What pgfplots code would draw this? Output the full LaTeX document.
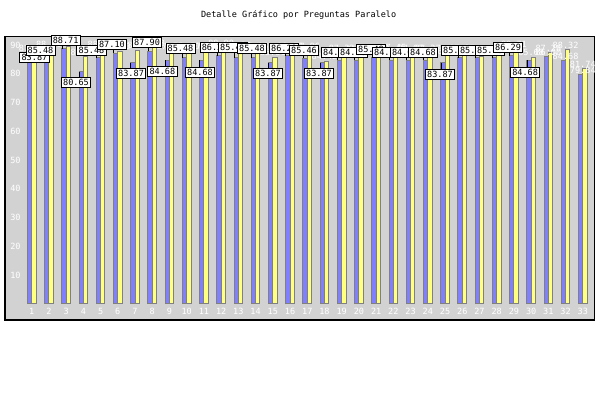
\documentclass[border=0pt]{standalone}
\usepackage{pgfplots}
\pgfplotsset{compat=1.18}
\usepackage{pgfplotstable}
\usepackage{fontspec}
\newfontfamily\pixfont{DejaVu Sans Mono}
\newcommand{\pf}{\pixfont\fontsize{6.4}{7}\selectfont}
\definecolor{bgray}{RGB}{210,210,210}
\definecolor{bblue}{RGB}{128,128,255}
\definecolor{byellow}{RGB}{255,255,128}
\definecolor{bedge}{RGB}{128,128,128}

\pgfplotstableread{
k blue yellow
1 83.87 87.10
2 85.48 88.60
3 88.71 89.40
4 80.65 85.88
5 85.48 88.50
6 87.10 87.90
7 83.87 88.20
8 87.90 89.08
9 84.68 87.88
10 85.48 88.00
11 84.68 87.90
12 86.29 88.88
13 85.48 88.20
14 85.48 87.96
15 83.87 85.81
16 86.29 88.07
17 85.46 87.96
18 83.87 84.42
19 84.68 87.33
20 84.68 86.97
21 85.48 87.07
22 84.68 87.45
23 84.68 87.07
24 84.68 87.37
25 83.87 86.19
26 85.48 87.37
27 85.48 86.06
28 85.48 86.40
29 86.29 88.71
30 84.68 85.68
31 86.00 87.28
32 84.68 88.32
33 79.84 81.74
}\datatab

\pgfplotstableread{
x cx y ep em lab
1.16 0.76 85.83 0 1.96 83.87
1.51 1.76 88.09 0 2.61 85.48
2.97 2.76 91.74 0 3.03 88.71
3.57 3.76 76.96 3.69 0 80.65
4.47 4.76 88.09 0 2.61 85.48
5.66 5.76 90.35 0 3.25 87.10
6.77 6.76 80.09 3.78 0 83.87
7.70 7.76 91.04 0 3.14 87.90
8.59 8.76 80.78 3.90 0 84.68
9.64 9.76 88.78 0 3.30 85.48
10.77 10.76 80.61 4.07 0 84.68
11.62 11.76 89.13 0 2.84 86.29
12.69 12.76 89.13 0 3.65 85.48
13.79 13.76 88.78 0 3.30 85.48
14.72 14.76 80.09 3.78 0 83.87
15.65 15.76 88.95 0 2.66 86.29
16.81 16.76 88.09 0 2.63 85.46
17.68 17.76 80.09 3.78 0 83.87
18.67 18.76 87.57 0 2.89 84.68
19.66 19.76 87.57 0 2.89 84.68
20.70 20.76 88.43 0 2.95 85.48
21.63 21.76 87.57 0 2.89 84.68
22.67 22.76 87.57 0 2.89 84.68
23.72 23.76 87.57 0 2.89 84.68
24.71 24.76 79.91 3.96 0 83.87
25.64 25.76 88.26 0 2.78 85.48
26.62 26.76 88.26 0 2.78 85.48
27.61 27.76 88.26 0 2.78 85.48
28.66 28.76 89.13 0 2.84 86.29
29.65 29.76 80.61 4.07 0 84.68
}\boxtab

\begin{document}
\begin{tikzpicture}
\path[use as bounding box] (0,0) rectangle (450pt,300pt);
\node[font=\pf] at (224pt,288.4pt) {Detalle Gráfico por Preguntas Paralelo};
\begin{axis}[
  at={(3.75pt,60pt)}, anchor=south west,
  scale only axis, width=441.75pt, height=212.25pt,
  xmin=-0.55, xmax=33.65, ymin=-5.65, ymax=92.78,
  axis background/.style={fill=bgray},
  axis line style={black, line width=0.75pt},
  xtick={1,...,33}, ytick={10,20,...,90},
  major tick length=0pt,
  tick label style={font=\pf, text=white, inner sep=0pt},
  /pgf/number format/assume math mode=true,
  yticklabel style={anchor=west, xshift=3.75pt},
  xticklabel style={anchor=south, yshift=4pt},
  clip=false,
  valnode/.style={nodes near coords={\pgfmathprintnumber[fixed,fixed zerofill,precision=2,assume math mode=true]{\pgfplotspointmeta}},
    every node near coord/.append style={text=white, font=\pf, inner sep=0.6pt}},
]
\addplot[ybar, bar width=0.25, bar shift=-0.125, fill=bblue, draw=bedge, line width=0.75pt] table[x=k, y=blue] {\datatab};
\addplot[ybar, bar width=0.25, bar shift=0.125, fill=byellow, draw=bedge, line width=0.75pt, valnode] table[x=k, y=yellow] {\datatab};
\addplot[ybar, bar width=0.25, bar shift=-0.125, draw=none, fill=none, valnode] coordinates {(31,86.00) (32,84.68) (33,79.84)};
\addplot[draw=none, mark=none, error bars/.cd, y dir=both, y explicit, error mark=none, error bar style={black, line width=0.6pt}] table[x=cx, y=y, y error plus=ep, y error minus=em] {\boxtab};
\addplot[draw=none, mark=none, nodes near coords, point meta=explicit symbolic, nodes near coords align=center,
  every node near coord/.append style={draw=black, fill=white, text=black, font=\pf, inner sep=1.3pt, line width=0.6pt}]
  table[x=x, y=y, meta=lab] {\boxtab};
\end{axis}
\end{tikzpicture}
\end{document}
